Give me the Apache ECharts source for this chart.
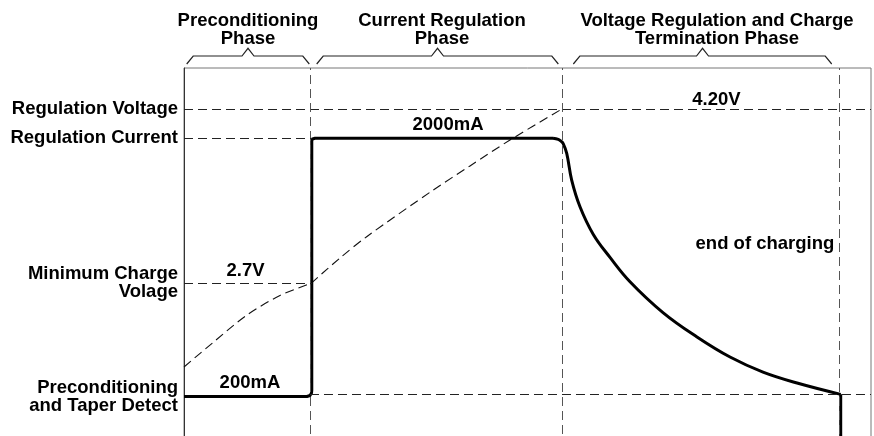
<!DOCTYPE html>
<html><head><meta charset="utf-8">
<script src="https://cdn.jsdelivr.net/npm/echarts@6/dist/echarts.min.js"></script>
<style>html,body{margin:0;padding:0;background:#fff}#c{width:874px;height:436px}</style>
</head><body><div id="c"></div>
<script>
// ---- data (time axis in arbitrary units 0..100) ----
const phaseNames = ['Preconditioning\nPhase', 'Current Regulation\nPhase', 'Voltage Regulation and Charge\nTermination Phase'];
const phaseBounds = [0, 18.34, 55.07, 95.39];
const voltageLevels = [2.7, 4.2];
const voltageLevelNames = ['Minimum Charge\nVolage', 'Regulation Voltage'];
const currentLevels = [200, 2000];
const currentLevelNames = ['Preconditioning\nand Taper Detect', 'Regulation Current'];
const stepTime = 18.6;
const taperLevel = 215;
// battery voltage: preconditioning part, then constant-current part
const voltPreTime  = [0, 4.22, 9.17, 13.97, 18.5];
const voltPreValue = [1.98, 2.19, 2.427, 2.595, 2.70];
const voltCcTime   = [18.5, 22.71, 26.59, 36.29, 41.63, 47.45, 55.02];
const voltCcValue  = [2.70, 2.918, 3.101, 3.503, 3.71, 3.933, 4.20];
// current: preconditioning + step + constant current
const ccTime  = [0, 17.9, 18.34, 18.56, 18.6, 18.6, 18.7, 19.07, 53.71];
const ccValue = [200, 200, 207, 224, 245, 1981, 1995, 2000, 2000];
// current: taper during voltage regulation
const cvTime  = [53.71, 54.48, 54.91, 55.17, 55.71, 56.43, 57.64, 59.58, 62.01, 64.92, 69.72, 74.67, 79.48, 84.28, 89.24, 95.59];
const cvValue = [2000, 1992, 1978, 1965, 1895, 1709, 1523, 1330, 1170, 1000, 785, 615, 475, 370, 294, 215];
// current: end of charging drop
const endTime  = [95.59, 95.59];
const endValue = [215, -400];
const voltNoteText = ['4.20V', '2.7V'];
const voltNoteTime = [77.5, 8.95];
const voltNoteValue = [4.2, 2.7];
const currNoteText = ['2000mA', '200mA'];
const currNoteTime = [38.43, 9.6];
const currNoteValue = [2000, 200];
const endNoteText = 'end of charging';
const endNoteTime = 95.39;
const endNoteValue = 1267;

const FONT = '"Liberation Sans", Arial, Helvetica, sans-serif';
const FS = 18.5;
const zip = (a, b) => a.map((x, i) => [x, b[i]]);
const nameFor = (vals, names) => v => { const i = vals.findIndex(x => Math.abs(x - v) < 1e-6); return i < 0 ? '' : names[i]; };
const labelBase = { color: '#000', fontFamily: FONT, fontWeight: 'bold', fontSize: FS, lineHeight: 18 };
const curStyle = { color: '#000', width: 3, join: 'round', cap: 'butt' };
const voltStyle = { color: '#111', width: 1.1, type: [9, 5] };

const chart = echarts.init(document.getElementById('c'), null, { renderer: 'canvas' });
chart.setOption({
  animation: false,
  backgroundColor: '#fff',
  grid: { left: 184, top: 68, right: 3, height: 380, outerBoundsMode: 'none', containLabel: false, show: true, borderColor: '#777', borderWidth: 1 },
  xAxis: { type: 'value', min: 0, max: 100, show: false },
  yAxis: [
    { type: 'value', min: 1.2826, max: 4.5528, position: 'left',
      axisLine: { show: true, lineStyle: { color: '#333', width: 1 } }, axisTick: { show: false }, splitLine: { show: false },
      axisLabel: Object.assign({ customValues: voltageLevels, formatter: nameFor(voltageLevels, voltageLevelNames), margin: 6, align: 'right' }, labelBase) },
    { type: 'value', min: -159.1, max: 2490.1, position: 'left', offset: 0,
      axisLine: { show: false }, axisTick: { show: false }, splitLine: { show: false },
      axisLabel: Object.assign({ customValues: currentLevels, formatter: nameFor(currentLevels, currentLevelNames), margin: 6, align: 'right' }, labelBase) }
  ],
  series: [
    { type: 'line', yAxisIndex: 0, data: zip(voltPreTime, voltPreValue), showSymbol: false, silent: true, z: 2,
      smooth: 0.3, lineStyle: voltStyle,
      markLine: { symbol: 'none', silent: true, label: { show: false }, lineStyle: { color: '#222', width: 1, type: [9, 5] },
        data: [
          { yAxis: voltageLevels[1] },
          [{ coord: [0, voltageLevels[0]] }, { coord: [stepTime, voltageLevels[0]] }],
          { xAxis: phaseBounds[1], lineStyle: { color: '#555' } },
          { xAxis: phaseBounds[2], lineStyle: { color: '#555' } },
          { xAxis: phaseBounds[3], lineStyle: { color: '#555' } }
        ] } },
    { type: 'line', yAxisIndex: 0, data: zip(voltCcTime, voltCcValue), showSymbol: false, silent: true, z: 2,
      smooth: 0.3, lineStyle: voltStyle },
    { type: 'line', yAxisIndex: 1, data: zip(ccTime, ccValue), showSymbol: false, silent: true, z: 3, lineStyle: curStyle,
      markLine: { symbol: 'none', silent: true, label: { show: false }, lineStyle: { color: '#222', width: 1, type: [9, 5] },
        data: [
          [{ coord: [0, currentLevels[1]] }, { coord: [stepTime, currentLevels[1]] }],
          [{ coord: [phaseBounds[1], taperLevel] }, { coord: [100, taperLevel] }]
        ] } },
    { type: 'line', yAxisIndex: 1, data: zip(cvTime, cvValue), showSymbol: false, silent: true, z: 3, lineStyle: curStyle,
      smooth: 0.4 },
    { type: 'line', yAxisIndex: 1, data: zip(endTime, endValue), showSymbol: false, silent: true, z: 3, lineStyle: curStyle }
  ]
});

// annotations, phase braces and titles, positioned through the chart's scales
const toPx = (yIdx, t, v) => chart.convertToPixel({ xAxisIndex: 0, yAxisIndex: yIdx }, [t, v]);
const px = t => chart.convertToPixel({ xAxisIndex: 0 }, t);
const textStyle = (text, align, vAlign) => ({ text, fill: '#000', font: 'bold ' + FS + 'px ' + FONT, lineHeight: 18, align, verticalAlign: vAlign });
const graphics = [];
const voltGap = [0, 3], currGap = [4, 5];
voltNoteText.forEach((t, i) => { const p = toPx(0, voltNoteTime[i], voltNoteValue[i]);
  graphics.push({ type: 'text', silent: true, x: p[0], y: p[1] - voltGap[i], style: textStyle(t, 'center', 'bottom') }); });
currNoteText.forEach((t, i) => { const p = toPx(1, currNoteTime[i], currNoteValue[i]);
  graphics.push({ type: 'text', silent: true, x: p[0], y: p[1] - currGap[i], style: textStyle(t, 'center', 'bottom') }); });
{ const p = toPx(1, endNoteTime, endNoteValue);
  graphics.push({ type: 'text', silent: true, x: p[0] - 5, y: p[1], style: textStyle(endNoteText, 'right', 'middle') }); }

const braceInsets = [[2.7, 0.7], [6.7, 4], [11, 7.6]];
const titleX = [248, 442, 717];
for (let i = 0; i < 3; i++) {
  const a = px(phaseBounds[i]) + braceInsets[i][0];
  const b = px(phaseBounds[i + 1]) - braceInsets[i][1];
  const m = (a + b) / 2;
  const yB = 64, yH = 56, yP = 48.3;
  graphics.push({ type: 'polyline', silent: true,
    shape: { points: [[a, yB], [a + 6.5, yH], [m - 6, yH], [m, yP], [m + 6, yH], [b - 6.5, yH], [b, yB]] },
    style: { stroke: '#222', lineWidth: 1.2, fill: null } });
  graphics.push({ type: 'text', silent: true, x: titleX[i], y: 11.5, style: textStyle(phaseNames[i], 'center', 'top') });
}
chart.setOption({ graphic: graphics });
</script>
</body></html>
